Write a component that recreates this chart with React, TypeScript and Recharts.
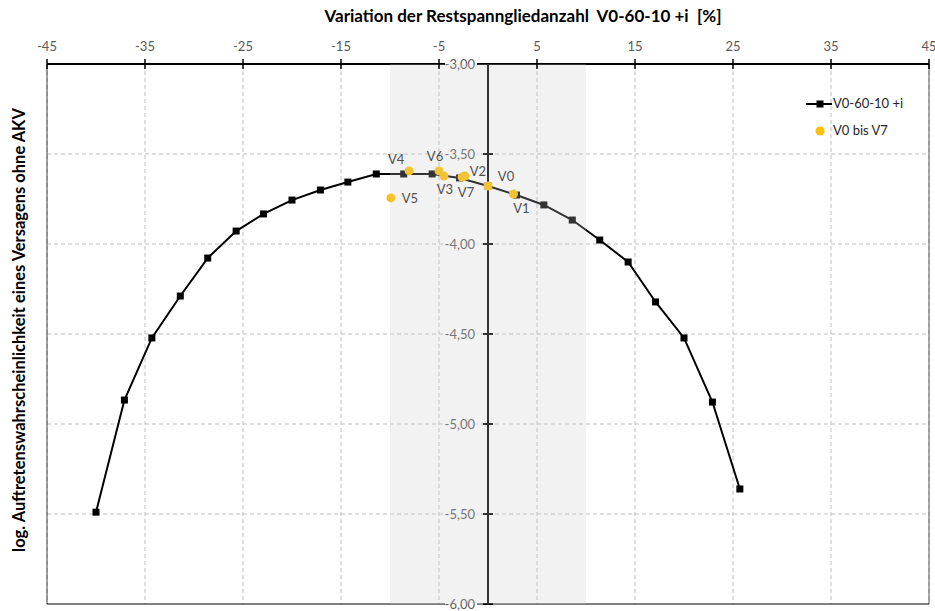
import React from 'react';
import {
  ComposedChart,
  Scatter,
  XAxis,
  YAxis,
  CartesianGrid,
  ReferenceArea,
  ReferenceLine,
  ReferenceDot,
} from 'recharts';

// Variation der Restspanngliedanzahl [%] (steps of 1/35)
const restVariation = [
  -40, -37.1, -34.3, -31.4, -28.6, -25.7, -22.9, -20, -17.1, -14.3, -11.4, -8.6,
  -5.7, -2.9, 0, 2.9, 5.7, 8.6, 11.4, 14.3, 17.1, 20, 22.9, 25.7,
];
// log. Auftretenswahrscheinlichkeit
const logProbability = [
  -5.49, -4.867, -4.522, -4.289, -4.078, -3.928, -3.833, -3.756, -3.7, -3.656, -3.611, -3.611,
  -3.611, -3.633, -3.678, -3.728, -3.783, -3.867, -3.978, -4.1, -4.322, -4.522, -4.878, -5.361,
];

const versionNames = ['V0', 'V1', 'V2', 'V3', 'V4', 'V5', 'V6', 'V7'];
const versionX = [0, 2.6, -2.35, -4.5, -8.05, -9.9, -5.0, -2.65];
const versionY = [-3.678, -3.722, -3.622, -3.622, -3.594, -3.744, -3.594, -3.628];

const xTicks = [-45, -35, -25, -15, -5, 5, 15, 25, 35, 45];
const yTicks = [-6, -5.5, -5, -4.5, -4, -3.5, -3];

const FONT = "Lato, 'Open Sans', sans-serif";
const GOLD = '#FFC000';

const mainSeries = restVariation.map((x, i) => ({ x, y: logProbability[i] }));
const versionSeries = versionNames.map((name, i) => ({ name, x: versionX[i], y: versionY[i] }));

// where each version label sits relative to its dot
const labelOffset: Record<string, [number, number]> = {
  V0: [18, -10],
  V1: [8, 15],
  V2: [13, -4],
  V3: [1, 14],
  V4: [-13, -11],
  V5: [19, 1],
  V6: [-4, -14],
  V7: [4, 15],
};

const fmt = (v: number) => v.toFixed(2).replace('.', ',');

const XTick = (props: any) => {
  const { x, y, payload } = props;
  return (
    <g>
      <line x1={x} x2={x} y1={y - 5} y2={y + 5} stroke="#000" strokeWidth={1.5} />
      <text x={x} y={y - 13} textAnchor="middle" fontSize={13} fontFamily={FONT} fill="#595959">
        {payload.value}
      </text>
    </g>
  );
};

const YTickAtZero = (props: any) => {
  const { cx, cy, value } = props;
  return (
    <g>
      <rect x={cx - 43} y={cy - 8} width={32} height={16} fill="#fff" />
      <line x1={cx - 5} x2={cx + 5} y1={cy} y2={cy} stroke="#000" strokeWidth={2} />
      <text
        x={cx - 13}
        y={cy + 4.5}
        textAnchor="end"
        fontSize={13}
        fontFamily={FONT}
        fill="#595959"
      >
        {fmt(value)}
      </text>
    </g>
  );
};

const SquareMarker = (props: any) => {
  const { cx, cy } = props;
  return <rect x={cx - 3.5} y={cy - 3.5} width={7} height={7} fill="#000" />;
};

const VersionMarker = (props: any) => {
  const { cx, cy, payload } = props;
  const [dx, dy] = labelOffset[payload.name] || [10, 0];
  return (
    <g>
      <circle cx={cx} cy={cy} r={4.5} fill={GOLD} />
      <text
        x={cx + dx}
        y={cy + dy + 4.5}
        textAnchor="middle"
        fontSize={13}
        fontFamily={FONT}
        fill="#262626"
      >
        {payload.name}
      </text>
    </g>
  );
};

export default function App() {
  return (
    <div style={{ position: 'absolute', left: 0, top: 0, width: 935, height: 611, background: '#fff' }}>
      <div
        style={{
          position: 'absolute',
          left: 223,
          top: 5,
          width: 600,
          textAlign: 'center',
          fontFamily: FONT,
          fontWeight: 700,
          fontSize: 17,
          color: '#000',
          whiteSpace: 'pre',
        }}
      >
        {'Variation der Restspanngliedanzahl  V0-60-10 +i  [%]'}
      </div>
      <div
        style={{
          position: 'absolute',
          left: 19 - 300,
          top: 330 - 10,
          width: 600,
          height: 20,
          lineHeight: '20px',
          textAlign: 'center',
          transform: 'rotate(-90deg)',
          fontFamily: FONT,
          fontWeight: 700,
          fontSize: 16.5,
          color: '#000',
          whiteSpace: 'nowrap',
        }}
      >
        log. Auftretenswahrscheinlichkeit eines Versagens ohne AKV
      </div>

      <ComposedChart
        width={935}
        height={611}
        margin={{ top: 34, right: 6, bottom: 7, left: 47 }}
        style={{ position: 'absolute', left: 0, top: 0 }}
      >
        <CartesianGrid
          stroke="#bfbfbf"
          strokeDasharray="4 3"
          verticalValues={xTicks}
          horizontalValues={yTicks}
        />
        <XAxis
          type="number"
          dataKey="x"
          orientation="top"
          domain={[-45, 45]}
          ticks={xTicks}
          height={30}
          tickSize={0}
          tickMargin={0}
          tickLine={false}
          axisLine={{ stroke: '#000', strokeWidth: 2 }}
          tick={<XTick />}
          interval={0}
          allowDataOverflow
        />
        <YAxis type="number" dataKey="y" domain={[-6, -3]} ticks={yTicks} hide allowDataOverflow />

        <ReferenceLine x={-45} stroke="#404040" strokeWidth={1} />
        <ReferenceLine x={45} stroke="#595959" strokeWidth={1} />
        <ReferenceLine y={-6} stroke="#000" strokeWidth={1} />
        <ReferenceLine x={0} stroke="#000" strokeWidth={2} />

        <Scatter
          name="V0-60-10 +i"
          data={mainSeries}
          line={{ stroke: '#000', strokeWidth: 2 }}
          lineType="joint"
          shape={<SquareMarker />}
          isAnimationActive={false}
        />
        <Scatter
          name="V0 bis V7"
          data={versionSeries}
          shape={<VersionMarker />}
          isAnimationActive={false}
        />

        {yTicks.map((v) => (
          <ReferenceDot
            key={v}
            x={0}
            y={v}
            r={0}
            ifOverflow="visible"
            shape={(p: any) => <YTickAtZero {...p} value={v} />}
          />
        ))}

        <ReferenceArea
          x1={-10}
          x2={10}
          y1={-6}
          y2={-3}
          fill="#cccccc"
          fillOpacity={0.25}
          stroke="none"
          zIndex={1500}
        />
      </ComposedChart>

      <div
        style={{
          position: 'absolute',
          left: 804,
          top: 90,
          fontFamily: FONT,
          fontSize: 13,
          color: '#262626',
          lineHeight: '27px',
        }}
      >
        <div style={{ display: 'flex', alignItems: 'center' }}>
          <svg width={29} height={12}>
            <line x1={2} x2={28} y1={6} y2={6} stroke="#000" strokeWidth={2} />
            <rect x={12.5} y={2.5} width={7} height={7} fill="#000" />
          </svg>
          <span>V0-60-10 +i</span>
        </div>
        <div style={{ display: 'flex', alignItems: 'center' }}>
          <svg width={29} height={12}>
            <circle cx={16} cy={6} r={4.5} fill={GOLD} />
          </svg>
          <span>V0 bis V7</span>
        </div>
      </div>
    </div>
  );
}
